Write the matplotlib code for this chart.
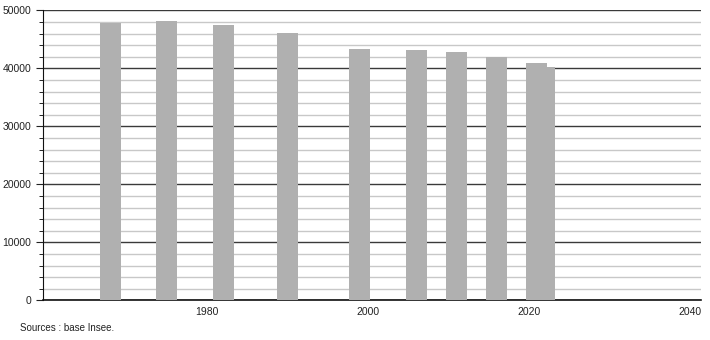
import matplotlib.pyplot as plt
from matplotlib.ticker import MultipleLocator

years = [1968, 1975, 1982, 1990, 1999, 2006, 2011, 2016, 2021, 2022]
population = [47860, 48160, 47470, 46090, 43330, 43160, 42810, 41950, 40910, 40220]
x_ticks = [1980, 2000, 2020, 2040]
source_text = "Sources : base Insee."

plt.rcParams['font.family'] = ['Liberation Sans', 'DejaVu Sans']

fig = plt.figure(figsize=(7.1, 3.4), dpi=100)
ax = fig.add_axes([43 / 710, (340 - 300.3) / 340, (701 - 43) / 710, (300.3 - 10.3) / 340])

# bars
ax.bar(years, population, width=2.6, color='#b0b0b0', zorder=3)

ax.set_xlim(1959.6, 2041.4)
ax.set_ylim(0, 50000)

# grid: dark every 10000, light every 2000
ax.yaxis.set_major_locator(MultipleLocator(10000))
ax.yaxis.set_minor_locator(MultipleLocator(2000))
ax.grid(axis='y', which='major', color='#3a3a3a', linewidth=1.0, zorder=1)
ax.grid(axis='y', which='minor', color='#c8c8c8', linewidth=1.0, zorder=0)
ax.set_xticks(x_ticks)

ax.tick_params(axis='x', length=0, labelsize=7.5, pad=5, colors='#222222')
ax.tick_params(axis='y', which='major', length=5, labelsize=7.5, colors='#222222')
ax.tick_params(axis='y', which='minor', length=3)

for s in ['top', 'right']:
    ax.spines[s].set_visible(False)
ax.spines['left'].set_color('#111111')
ax.spines['bottom'].set_color('#111111')
ax.spines['bottom'].set_linewidth(1.2)

fig.text(20 / 710, 1 - 328 / 340, source_text, fontsize=7, color='#222222', va='center')

fig.savefig('out.png', dpi=100)
